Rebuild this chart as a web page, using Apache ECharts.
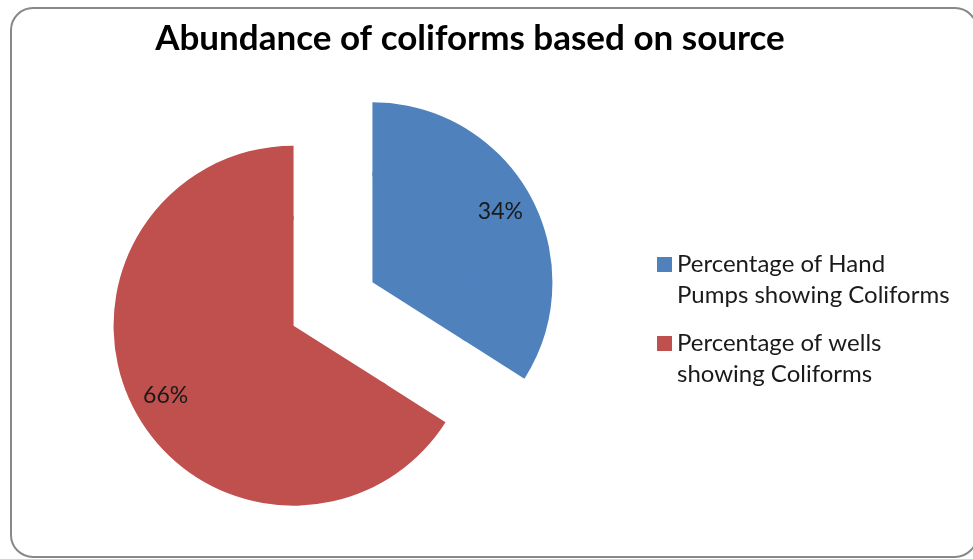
<!DOCTYPE html>
<html><head><meta charset="utf-8">
<script src="https://cdn.jsdelivr.net/npm/echarts@6/dist/echarts.min.js"></script>
<style>html,body{margin:0;padding:0;background:#fff}#c{width:973px;height:559px}</style>
</head><body><div id="c"></div>
<script>
const titleText = 'Abundance of coliforms based on source';
const categories = ['Percentage of Hand Pumps showing Coliforms', 'Percentage of wells showing Coliforms'];
const legendLines = [['Percentage of Hand', 'Pumps showing Coliforms'], ['Percentage of wells', 'showing Coliforms']];
const values = [34, 66];
const colors = ['#4F81BD', '#C0504D'];

const FONT = 'Lato';
const chart = echarts.init(document.getElementById('c'), null, {renderer: 'canvas'});
const data = categories.map((n, i) => ({name: n, value: values[i], selected: true, itemStyle: {color: colors[i]}}));
const legendFmt = name => legendLines[categories.indexOf(name)].join('\n');
const legendCommon = {
  orient: 'vertical', left: 652, itemWidth: 15, itemHeight: 46, itemGap: 0,
  icon: 'path://M0,0L15,0L15,15L0,15Z M0,46L0.01,46', selectedMode: false,
  formatter: legendFmt,
  textStyle: {fontFamily: FONT, fontSize: 24, color: '#1a1a1a', lineHeight: 31}
};
const base = {
  type: 'pie', center: [333, 304], startAngle: 90, clockwise: true,
  selectedMode: 'multiple', selectedOffset: 45, avoidLabelOverlap: false,
  emphasis: {disabled: true}, animation: false, data: data
};
chart.setOption({
  animation: false,
  title: {text: titleText, left: 465, top: 16, textAlign: 'center',
    textStyle: {fontFamily: FONT, fontSize: 35, fontWeight: 'bold', color: '#000'}},
  legend: [
    Object.assign({}, legendCommon, {top: 244, data: [categories[0]]}),
    Object.assign({}, legendCommon, {top: 323, data: [categories[1]]})
  ],
  graphic: [{type: 'rect', shape: {x: 11, y: 8, width: 966, height: 549, r: 22},
    style: {fill: 'none', stroke: '#888', lineWidth: 2}, silent: true}],
  series: [
    Object.assign({}, base, {radius: [0, 110], silent: true, label: {show: false}, labelLine: {show: false}}),
    Object.assign({}, base, {radius: [106, 180],
      label: {show: true, position: 'inside', formatter: '{d}%', fontFamily: FONT, fontSize: 23, color: '#1a1a1a'},
      labelLine: {show: false}})
  ]
});
</script></body></html>
